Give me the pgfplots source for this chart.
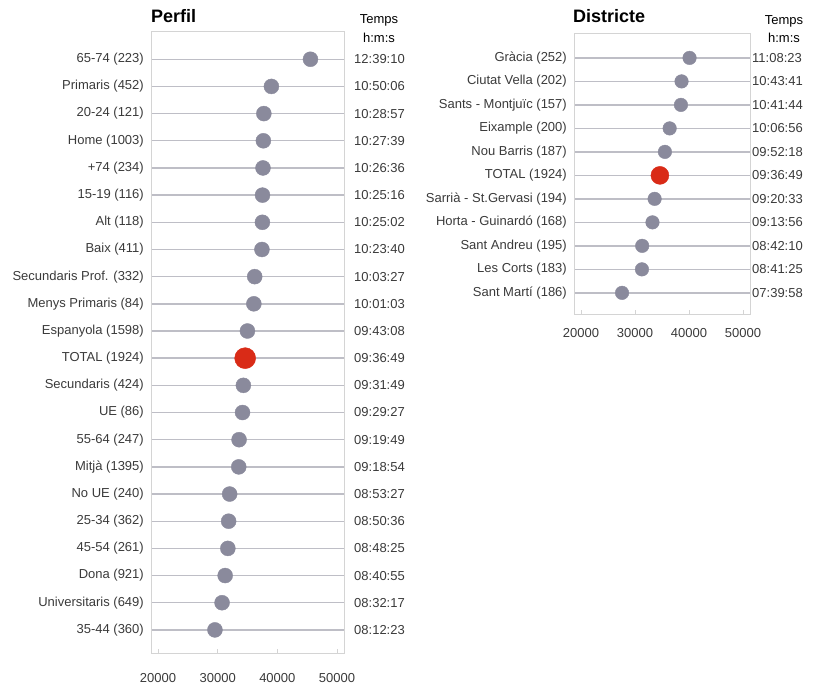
\documentclass[border=0pt]{standalone}
\usepackage{pgfplots}
\pgfplotsset{compat=1.18}
\usepackage{pgfplotstable}
\usepackage{fontspec}
\setmainfont{Liberation Sans}
\definecolor{dotgrey}{HTML}{8A8A9C}
\definecolor{dotred}{HTML}{D92B17}
\definecolor{txt}{HTML}{3A3A3A}
\definecolor{gridc}{HTML}{BEBEC6}
\definecolor{framec}{HTML}{D4D4D4}

\pgfplotstableread[col sep=semicolon]{
y;val;lab;t
1;45550;65-74 (223);12:39:10
2;39006;Primaris (452);10:50:06
3;37737;20-24 (121);10:28:57
4;37659;Home (1003);10:27:39
5;37596;+74 (234);10:26:36
6;37516;15-19 (116);10:25:16
7;37502;Alt (118);10:25:02
8;37420;Baix (411);10:23:40
9;36207;Secundaris Prof. (332);10:03:27
10;36063;Menys Primaris (84);10:01:03
11;34988;Espanyola (1598);09:43:08
12;34609;TOTAL (1924);09:36:49
13;34309;Secundaris (424);09:31:49
14;34167;UE (86);09:29:27
15;33589;55-64 (247);09:19:49
16;33534;Mitjà (1395);09:18:54
17;32007;No UE (240);08:53:27
18;31836;25-34 (362);08:50:36
19;31705;45-54 (261);08:48:25
20;31255;Dona (921);08:40:55
21;30737;Universitaris (649);08:32:17
22;29543;35-44 (360);08:12:23
}\perfil

\pgfplotstableread[col sep=semicolon]{
y;val;lab;t
1;40103;Gràcia (252);11:08:23
2;38621;Ciutat Vella (202);10:43:41
3;38504;Sants - Montjuïc (157);10:41:44
4;36416;Eixample (200);10:06:56
5;35538;Nou Barris (187);09:52:18
6;34609;TOTAL (1924);09:36:49
7;33633;Sarrià - St.Gervasi (194);09:20:33
8;33236;Horta - Guinardó (168);09:13:56
9;31330;Sant Andreu (195);08:42:10
10;31285;Les Corts (183);08:41:25
11;27598;Sant Martí (186);07:39:58
}\districte

\pgfplotstableread{
y val
12 34609
}\totalA
\pgfplotstableread{
y val
6 34609
}\totalB

\pgfplotsset{
  dotstyle/.style={
    scale only axis,
    y dir=reverse,
    axis line style={draw=framec, line width=0.9pt},
    ymajorgrids,
    grid style={draw=gridc, line width=1.4pt},
    ytick style={draw=none},
    xtick style={draw=framec, line width=0.8pt},
    major tick length=4pt,
    xtick pos=bottom,
    xtick={20000,30000,40000,50000},
    scaled x ticks=false,
    /pgf/number format/assume math mode=true,
    xticklabel={\pgfmathprintnumber[fixed,1000 sep={}]{\tick}},
    tick label style={font=\fontsize{13}{15}\selectfont, text=txt},
    yticklabel style={inner sep=0pt, xshift=-7pt},
    clip=false,
  },
  timestyle/.style={
    scale only axis,
    y dir=reverse,
    hide x axis,
    axis y line*=right,
    y axis line style={draw=none},
    major tick length=0pt,
    ytick style={draw=none},
    tick label style={font=\fontsize{13}{15}\selectfont, text=txt},
  }
}

\begin{document}
\begin{tikzpicture}[x=1pt,y=1pt]
\path[use as bounding box] (0,0) rectangle (814,684);

% ---------------- Perfil ----------------
\begin{axis}[dotstyle,
  at={(151pt,31pt)}, anchor=south west,
  width=193pt, height=622pt,
  xmin=18827, xmax=51173,
  ymin=-0.04, ymax=22.85,
  ytick={1,...,22},
  yticklabels from table={\perfil}{lab},
  xticklabel style={inner sep=0pt, yshift=-20pt},
]
\addplot[only marks, mark=*, mark size=7.5pt, color=dotgrey]
  table[x=val, y=y] {\perfil};
\addplot[only marks, mark=*, mark size=10.5pt, color=dotred]
  table[x=val, y=y] {\totalA};
\end{axis}
\begin{axis}[timestyle,
  at={(151pt,31pt)}, anchor=south west,
  width=193pt, height=622pt,
  xmin=18827, xmax=51173,
  ymin=-0.04, ymax=22.85,
  ytick={1,...,22},
  yticklabels from table={\perfil}{t},
  yticklabel style={inner sep=0pt, anchor=west, xshift=10pt},
]
\addplot[draw=none, mark=none] table[x=val, y=y] {\perfil};
\end{axis}

% ---------------- Districte ----------------
\begin{axis}[dotstyle,
  at={(574pt,370pt)}, anchor=south west,
  width=176pt, height=281pt,
  xmin=18704, xmax=51296,
  ymin=-0.06, ymax=11.9,
  ytick={1,...,11},
  yticklabels from table={\districte}{lab},
  xticklabel style={inner sep=0pt, yshift=-14pt},
]
\addplot[only marks, mark=*, mark size=6.8pt, color=dotgrey]
  table[x=val, y=y] {\districte};
\addplot[only marks, mark=*, mark size=9pt, color=dotred]
  table[x=val, y=y] {\totalB};
\end{axis}
\begin{axis}[timestyle,
  at={(574pt,370pt)}, anchor=south west,
  width=176pt, height=281pt,
  xmin=18704, xmax=51296,
  ymin=-0.06, ymax=11.9,
  ytick={1,...,11},
  yticklabels from table={\districte}{t},
  yticklabel style={inner sep=0pt, anchor=west, xshift=2pt},
]
\addplot[draw=none, mark=none] table[x=val, y=y] {\districte};
\end{axis}

% ---------------- titles and headers ----------------
\node[anchor=base west, inner sep=0pt, font=\fontsize{18}{20}\selectfont\bfseries] at (151,661) {Perfil};
\node[anchor=base west, inner sep=0pt, font=\fontsize{18}{20}\selectfont\bfseries] at (573,661) {Districte};
\node[anchor=base, inner sep=0pt, font=\fontsize{13}{15}\selectfont] at (379,660) {Temps};
\node[anchor=base, inner sep=0pt, font=\fontsize{13}{15}\selectfont] at (379,641) {h:m:s};
\node[anchor=base, inner sep=0pt, font=\fontsize{13}{15}\selectfont] at (784,659) {Temps};
\node[anchor=base, inner sep=0pt, font=\fontsize{13}{15}\selectfont] at (784,641) {h:m:s};
\end{tikzpicture}
\end{document}
